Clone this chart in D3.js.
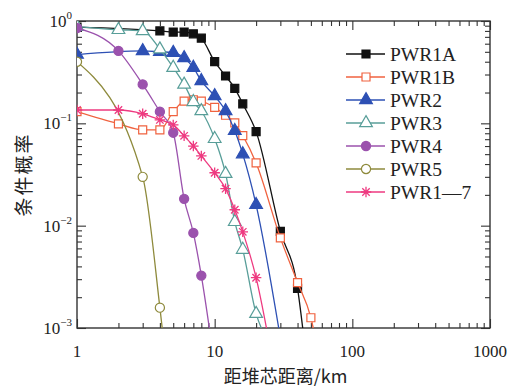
<!DOCTYPE html>
<html>
<head>
<meta charset="utf-8">
<script src="https://cdn.jsdelivr.net/npm/d3@7/dist/d3.min.js"></script>
<style>
  body { margin: 0; background: #fff; }
  svg { display: block; }
</style>
</head>
<body>
<div id="chart"></div>
<script>
// values
const seriesNames = ["PWR1A", "PWR1B", "PWR2", "PWR3", "PWR4", "PWR5", "PWR1—7"];

const pwr1aX = [1, 4, 5, 6, 7, 8, 10, 12, 14, 16, 20, 30, 40, 45];
const pwr1aY = [0.87, 0.80, 0.78, 0.78, 0.75, 0.68, 0.40, 0.29, 0.22, 0.155, 0.083, 0.0088, 0.00244, 0.0007];

const pwr1bX = [1, 2, 3, 4, 5, 6, 7, 8, 10, 12, 14, 16, 20, 30, 40, 50, 55];
const pwr1bY = [0.13, 0.099, 0.0865, 0.0865, 0.13, 0.165, 0.17, 0.165, 0.143, 0.12, 0.101, 0.076, 0.041, 0.0076, 0.00278, 0.00126, 0.0007];

const pwr2X = [1, 3, 4, 5, 6, 7, 8, 10, 12, 14, 16, 20, 30];
const pwr2Y = [0.47, 0.51, 0.50, 0.49, 0.435, 0.35, 0.26, 0.185, 0.132, 0.0845, 0.05, 0.016, 0.0008];

const pwr3X = [1, 2, 3, 4, 5, 6, 7, 8, 10, 12, 14, 16, 20, 24];
const pwr3Y = [0.88, 0.82, 0.80, 0.53, 0.35, 0.24, 0.162, 0.132, 0.0706, 0.0322, 0.0109, 0.00583, 0.00138, 0.00077];

const pwr4X = [1, 2, 3, 4, 5, 6, 7, 8, 9.5];
const pwr4Y = [0.855, 0.51, 0.24, 0.13, 0.081, 0.0183, 0.0085, 0.00325, 0.0007];

const pwr5X = [1, 3, 4, 4.3];
const pwr5Y = [0.40, 0.030, 0.00158, 0.00067];

const pwr17X = [1, 2, 3, 4, 5, 6, 7, 8, 10, 12, 14, 16, 20, 25];
const pwr17Y = [0.135, 0.135, 0.124, 0.108, 0.0966, 0.0755, 0.060, 0.048, 0.0329, 0.023, 0.0143, 0.0087, 0.0031, 0.0007];

const xMajorTicks = [1, 10, 100, 1000];
const yMajorTicks = [1e-3, 1e-2, 1e-1, 1];
const yTickExponents = ["−3", "−2", "−1", "0"];

const xTitle = "距堆芯距离/km";
const yTitle = "条件概率";

// ---- styles ----
const starType = {
    draw(ctx, size) {
        const r = Math.sqrt(size) / 2;
        const d = r * Math.SQRT1_2;
        ctx.moveTo(-r, 0); ctx.lineTo(r, 0);
        ctx.moveTo(0, -r); ctx.lineTo(0, r);
        ctx.moveTo(-d, -d); ctx.lineTo(d, d);
        ctx.moveTo(-d, d); ctx.lineTo(d, -d);
    }
};

const styles = [
    { color: "#111111", symbol: d3.symbolSquare, size: 64, filled: true },
    { color: "#f0623f", symbol: d3.symbolSquare, size: 64, filled: false },
    { color: "#2d50b4", symbol: d3.symbolTriangle, size: 70, filled: true },
    { color: "#589e99", symbol: d3.symbolTriangle, size: 70, filled: false },
    { color: "#9b52ad", symbol: d3.symbolCircle, size: 66, filled: true },
    { color: "#8e8a3c", symbol: d3.symbolCircle, size: 66, filled: false },
    { color: "#ee3a80", symbol: starType, size: 110, star: true }
];

const xs = [pwr1aX, pwr1bX, pwr2X, pwr3X, pwr4X, pwr5X, pwr17X];
const ys = [pwr1aY, pwr1bY, pwr2Y, pwr3Y, pwr4Y, pwr5Y, pwr17Y];
const series = seriesNames.map((name, i) => ({
    name,
    style: styles[i],
    points: xs[i].map((x, j) => ({ x, y: ys[i][j] }))
}));

const width = 511, height = 388;
const plot = { left: 77, top: 21, right: 490, bottom: 328 };
const serif = "'Liberation Serif', 'Times New Roman', serif";
const axisColor = "#333";

const svg = d3.select("#chart").append("svg")
    .attr("width", width)
    .attr("height", height)
    .attr("viewBox", `0 0 ${width} ${height}`);

const x = d3.scaleLog().domain([1, 1000]).range([plot.left, plot.right]);
const y = d3.scaleLog().domain([1e-3, 1]).range([plot.bottom, plot.top]);

const minorOf = (domain) => {
    const out = [];
    for (let e = Math.log10(domain[0]); e < Math.log10(domain[1]); e++) {
        for (let k = 2; k <= 9; k++) out.push(k * Math.pow(10, e));
    }
    return out;
};
const xMinor = minorOf(x.domain());
const yMinor = minorOf(y.domain());

svg.append("clipPath").attr("id", "plot-clip")
    .append("rect")
    .attr("x", plot.left).attr("y", plot.top)
    .attr("width", plot.right - plot.left).attr("height", plot.bottom - plot.top);

// ---- ticks (all pointing inward) ----
function tickAxis(axis, values, len, transform) {
    const g = svg.append("g")
        .attr("transform", transform)
        .call(axis.tickValues(values).tickSize(-len).tickFormat(""));
    g.select(".domain").remove();
    g.selectAll(".tick line").attr("stroke", axisColor).attr("stroke-width", 1.1);
}
tickAxis(d3.axisBottom(x), xMajorTicks, 9, `translate(0,${plot.bottom})`);
tickAxis(d3.axisBottom(x), xMinor, 5, `translate(0,${plot.bottom})`);
tickAxis(d3.axisTop(x), xMajorTicks, 9, `translate(0,${plot.top})`);
tickAxis(d3.axisTop(x), xMinor, 5, `translate(0,${plot.top})`);
tickAxis(d3.axisLeft(y), yMajorTicks, 9, `translate(${plot.left},0)`);
tickAxis(d3.axisLeft(y), yMinor, 5, `translate(${plot.left},0)`);
tickAxis(d3.axisRight(y), yMajorTicks, 9, `translate(${plot.right},0)`);
tickAxis(d3.axisRight(y), yMinor, 5, `translate(${plot.right},0)`);

svg.append("rect")
    .attr("x", plot.left).attr("y", plot.top)
    .attr("width", plot.right - plot.left).attr("height", plot.bottom - plot.top)
    .attr("fill", "none").attr("stroke", axisColor).attr("stroke-width", 1.4);

// ---- tick labels ----
svg.append("g").selectAll("text")
    .data(xMajorTicks)
    .join("text")
    .attr("x", (d) => x(d))
    .attr("y", plot.bottom + 29)
    .attr("text-anchor", "middle")
    .attr("font-family", serif)
    .attr("font-size", 17)
    .attr("fill", "#222")
    .text((d) => d);

const yLabels = svg.append("g").selectAll("text")
    .data(yMajorTicks)
    .join("text")
    .attr("x", plot.left - 5)
    .attr("y", (d) => y(d) + 6)
    .attr("text-anchor", "end")
    .attr("font-family", serif)
    .attr("font-size", 17)
    .attr("fill", "#222");
yLabels.append("tspan").text("10");
yLabels.append("tspan")
    .attr("dy", -8)
    .attr("font-size", 11)
    .text((_, i) => yTickExponents[i]);

// ---- titles ----
svg.append("text")
    .attr("x", (plot.left + plot.right) / 2 + 2)
    .attr("y", 383)
    .attr("text-anchor", "middle")
    .attr("font-family", "'Noto Sans CJK SC', " + serif)
    .attr("font-size", 18)
    .attr("fill", "#222")
    .text(xTitle);

svg.append("text")
    .attr("transform", `translate(31,${(plot.top + plot.bottom) / 2}) rotate(-90)`)
    .attr("text-anchor", "middle")
    .attr("font-family", "'Noto Sans CJK SC', " + serif)
    .attr("font-size", 19)
    .attr("letter-spacing", 2)
    .attr("fill", "#222")
    .text(yTitle);

// ---- series ----
const line = d3.line()
    .x((d) => x(d.x))
    .y((d) => y(d.y))
    .curve(d3.curveMonotoneX);

function drawMarker(sel, style) {
    sel.attr("d", d3.symbol().type(style.symbol).size(style.size))
        .attr("fill", style.star ? "none" : (style.filled ? style.color : "#fff"))
        .attr("stroke", style.color)
        .attr("stroke-width", style.star ? 1.3 : 1.2);
}

const plotG = svg.append("g").attr("clip-path", "url(#plot-clip)");
series.forEach((s) => {
    const g = plotG.append("g");
    g.append("path")
        .datum(s.points)
        .attr("fill", "none")
        .attr("stroke", s.style.color)
        .attr("stroke-width", 1.3)
        .attr("d", line);
    g.selectAll("path.marker")
        .data(s.points.filter((p) => p.y >= 1e-3))
        .join("path")
        .attr("class", "marker")
        .attr("transform", (d) => `translate(${x(d.x)},${y(d.y)})`)
        .call(drawMarker, s.style);
});

// ---- legend ----
const legend = svg.append("g").attr("transform", "translate(346,54)");
const rowH = 23;
const items = legend.selectAll("g")
    .data(series)
    .join("g")
    .attr("transform", (_, i) => `translate(0,${i * rowH})`);
items.append("line")
    .attr("x1", 0).attr("x2", 39)
    .attr("stroke", (d) => d.style.color)
    .attr("stroke-width", 1.3);
items.append("path")
    .attr("transform", "translate(20,0)")
    .each(function (d) { d3.select(this).call(drawMarker, d.style); });
items.append("text")
    .attr("x", 44)
    .attr("y", 7)
    .attr("font-family", serif)
    .attr("font-size", 19.5)
    .attr("fill", "#222")
    .text((d) => d.name);
</script>
</body>
</html>
